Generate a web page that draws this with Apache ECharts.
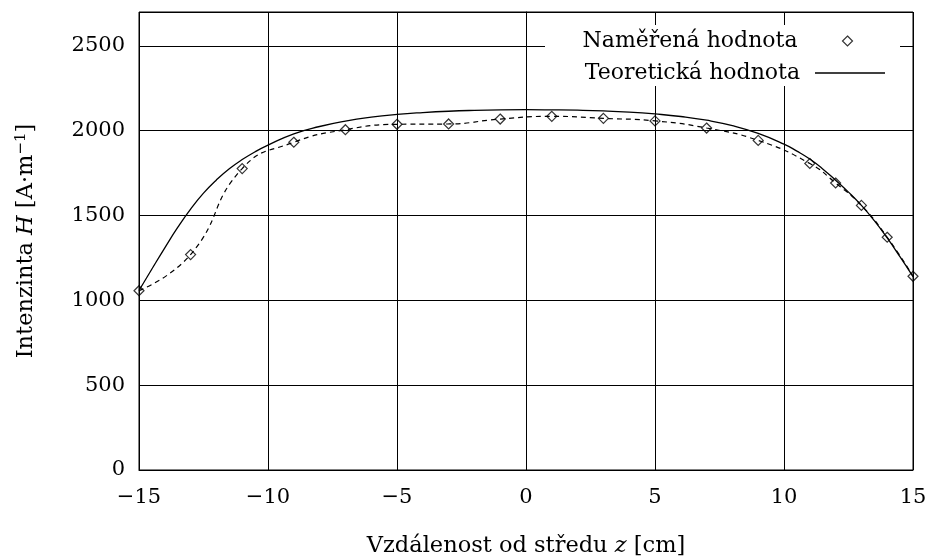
<!DOCTYPE html>
<html>
<head>
<meta charset="utf-8">
<script src="https://cdn.jsdelivr.net/npm/echarts@6/dist/echarts.min.js"></script>
<style>
html,body{margin:0;padding:0;background:#fff;}
#chart{width:930px;height:558px;}
</style>
</head>
<body>
<div id="chart"></div>
<script>
// Measured values (diamonds + dashed smooth curve)
var zMeasured = [-15, -13, -11, -9, -7, -5, -3, -1, 1, 3, 5, 7, 9, 11, 12, 13, 14, 15];
var hMeasured = [1057, 1270, 1777, 1932, 2006, 2038, 2040, 2069, 2085, 2073, 2058, 2016, 1943, 1807, 1692, 1560, 1372, 1142];

// Theoretical curve
var zTheory = [-15, -14.5, -14, -13.5, -13, -12.5, -12, -11.5, -11, -10.5, -10, -9, -8, -7, -6, -5, -4, -3, -2, -1, 0, 1, 2, 3, 4, 5, 6, 7, 8, 9, 10, 10.5, 11, 11.5, 12, 12.5, 13, 13.5, 14, 14.5, 15];
var hTheory = [1058, 1185, 1310, 1430, 1538, 1632, 1710, 1776, 1830, 1876, 1915, 1982, 2025, 2057, 2080, 2096, 2107, 2115, 2120, 2123, 2124, 2123, 2121, 2117, 2110, 2099, 2084, 2062, 2030, 1984, 1921, 1880, 1833, 1775, 1708, 1638, 1560, 1470, 1368, 1256, 1140];

var xTicks = [-15, -10, -5, 0, 5, 10, 15];
var yTicks = [0, 500, 1000, 1500, 2000, 2500];

var nameMeasured = 'Naměřená hodnota';
var nameTheory = 'Teoretická hodnota';

var FONT = '"DejaVu Serif", "Liberation Serif", serif';

function pairs(xs, ys) {
  return xs.map(function (x, i) { return [x, ys[i]]; });
}

var chart = echarts.init(document.getElementById('chart'), null, {renderer: 'canvas'});

chart.setOption({
  animation: false,
  backgroundColor: '#fff',
  textStyle: {fontFamily: FONT, color: '#000'},
  grid: {
    left: 139, right: 17, top: 12, bottom: 88,
    containLabel: false,
    outerBoundsMode: 'none',
    show: true, borderColor: '#000', borderWidth: 1, backgroundColor: 'transparent'
  },
  graphic: [{
    type: 'rect', z: 1,
    shape: {x: 545, y: 25, width: 355, height: 61},
    style: {fill: '#fff'}
  }],
  legend: [{
    data: [nameMeasured],
    orient: 'horizontal', align: 'right', right: 75, top: 30, padding: 0,
    itemWidth: 10, itemHeight: 10,
    textStyle: {fontFamily: FONT, fontSize: 22, color: '#000', padding: [0, 40, 0, 0]},
    itemStyle: {color: 'none', borderColor: '#000', borderWidth: 1.2},
    selectedMode: false
  }, {
    data: [nameTheory],
    orient: 'horizontal', align: 'right', right: 45, top: 62, padding: 0,
    itemWidth: 70, itemHeight: 1.3,
    icon: 'rect',
    textStyle: {fontFamily: FONT, fontSize: 22, color: '#000', padding: [0, 10, 0, 0]},
    itemStyle: {color: '#000', borderWidth: 0},
    selectedMode: false
  }],
  xAxis: {
    type: 'value', min: -15, max: 15, interval: 5,
    name: '{t|Vzdálenost od středu }{i|z}{t| [cm]}',
    nameLocation: 'middle', nameGap: 65,
    nameTextStyle: {
      rich: {
        t: {fontFamily: FONT, fontSize: 22.5, color: '#000'},
        i: {fontFamily: FONT, fontSize: 22.5, fontStyle: 'italic', color: '#000'}
      }
    },
    axisLine: {show: true, lineStyle: {color: '#000', width: 1}},
    axisTick: {show: true, inside: true, length: 8, lineStyle: {color: '#000'}},
    axisLabel: {
      fontFamily: FONT, fontSize: 21, color: '#000', margin: 17,
      formatter: function (v) { return String(v).replace('-', '\u2212'); }
    },
    splitLine: {show: true, lineStyle: {color: '#000', width: 1}}
  },
  yAxis: {
    type: 'value', min: 0, max: 2700, interval: 500,
    name: '{t|Intenzinta }{i|H}{t| [A·m}{s|\u22121}{t|]}',
    nameLocation: 'middle', nameGap: 101, nameRotate: 90,
    nameTextStyle: {
      rich: {
        t: {fontFamily: FONT, fontSize: 22.5, color: '#000'},
        i: {fontFamily: FONT, fontSize: 22.5, fontStyle: 'italic', color: '#000'},
        s: {fontFamily: FONT, fontSize: 15, color: '#000', verticalAlign: 'top', padding: [0, 0, 9, 0]}
      }
    },
    axisLine: {show: true, lineStyle: {color: '#000', width: 1}},
    axisTick: {show: true, inside: true, length: 8, lineStyle: {color: '#000'}},
    axisLabel: {
      fontFamily: FONT, fontSize: 21, color: '#000', margin: 14, showMaxLabel: false,
      formatter: function (v) { return yTicks.indexOf(v) >= 0 ? String(v) : ''; }
    },
    splitLine: {show: true, lineStyle: {color: '#000', width: 1}}
  },
  series: [{
    name: nameTheory,
    type: 'line',
    data: pairs(zTheory, hTheory),
    smooth: true,
    symbol: 'none',
    z: 3,
    lineStyle: {color: '#000', width: 1.3, type: 'solid'},
    itemStyle: {color: '#000'}
  }, {
    name: 'measuredCurve',
    type: 'line',
    data: pairs(zMeasured, hMeasured),
    smooth: 0.5,
    symbol: 'none',
    z: 3,
    lineStyle: {color: '#000', width: 1.2, type: [5, 4]}
  }, {
    name: nameMeasured,
    type: 'scatter',
    data: pairs(zMeasured, hMeasured),
    symbol: 'diamond',
    symbolSize: 10,
    z: 4,
    itemStyle: {color: 'none', borderColor: '#000', borderWidth: 1.2}
  }]
});
</script>
</body>
</html>
